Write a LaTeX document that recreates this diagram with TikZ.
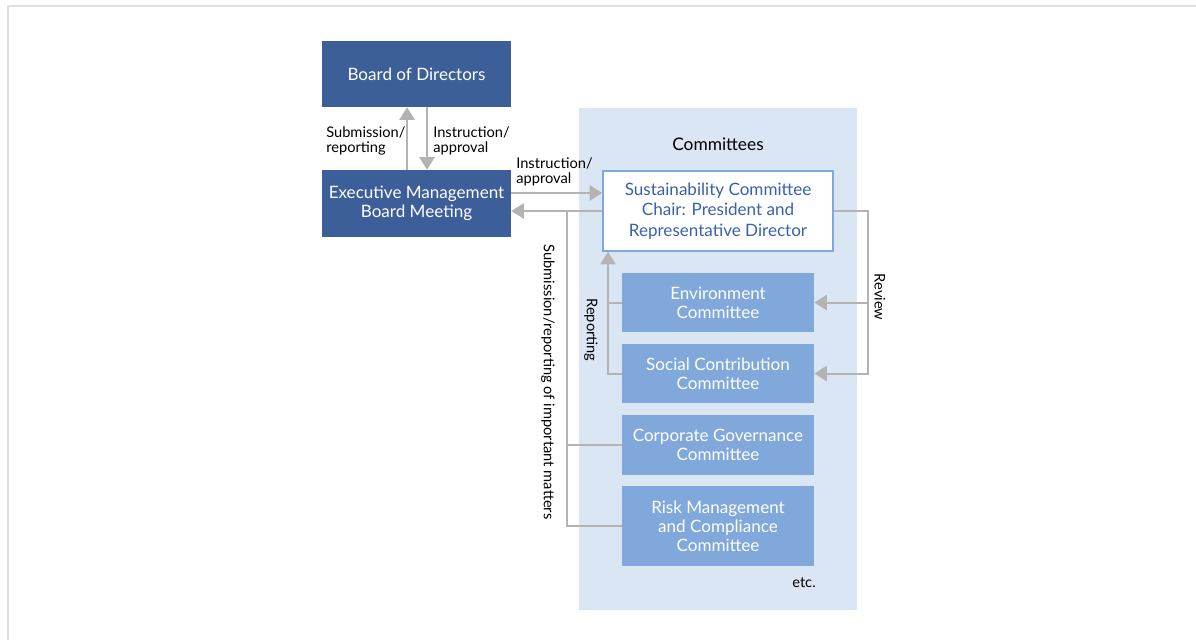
\documentclass[tikz,border=0pt]{standalone}
\usepackage{fontspec}
\setmainfont{Lato}
\usetikzlibrary{arrows.meta}
\definecolor{darkblue}{HTML}{3C5E99}
\definecolor{midblue}{HTML}{80A8DA}
\definecolor{paleblue}{HTML}{DBE6F5}
\definecolor{edgeblue}{HTML}{7FA8DE}
\definecolor{textblue}{HTML}{3A62A8}
\definecolor{arrgray}{HTML}{B3B3B3}

\begin{document}
\begin{tikzpicture}[x=0.75pt, y=-0.75pt,
  every node/.append style={inner sep=0pt, align=center},
  top/.style={fill=darkblue, text=white, minimum width=141.75pt, font=\fontsize{12.8}{14.2}\selectfont},
  chairbox/.style={fill=white, draw=edgeblue, line width=1.2pt, text=textblue, minimum width=172.5pt, minimum height=60pt, font=\fontsize{12.8}{15.3}\selectfont},
  sub/.style={fill=midblue, text=white, minimum width=144pt, font=\fontsize{12.8}{14.2}\selectfont},
  lbl/.style={font=\fontsize{11}{11.4}\selectfont, align=left},
  line/.style={draw=arrgray, line width=1.5pt},
  arr/.style={line, -{Triangle[width=11.5pt, length=9.5pt]}}]
 \useasboundingbox (0,0) rectangle (1196,640);
 \draw[black!12, line width=1.2pt] (8,640) -- (8,6) -- (1196,6);
 \fill[paleblue] (579,108) rectangle (857,610);

 \node[top, minimum height=49.5pt] (board) at (416.5,74) {Board of Directors};
 \node[top, minimum height=50.25pt] (exec) at (416.5,203.5) {Executive Management\\Board Meeting};

 \node[font=\fontsize{13}{14}\selectfont] (comm) at (718,144) {Committees};
 \node[chairbox] (sust) at (718,211) {Sustainability Committee\\Chair: President and\\Representative Director};
 \node[sub, minimum height=44.25pt] (env) at (718,302.5) {Environment\\Committee};
 \node[sub, minimum height=44.25pt] (soc) at (718,373.5) {Social Contribution\\Committee};
 \node[sub, minimum height=45pt] (cg) at (718,445) {Corporate Governance\\Committee};
 \node[sub, minimum height=60pt] (risk) at (718,526) {Risk Management\\and Compliance\\Committee};
 \node[lbl] (etc) at (804,583) {etc.};

 \coordinate (jn) at (567,212);
 \coordinate (rp) at (608,0);
 \coordinate (rv) at (868,0);

 \draw[arr] ([xshift=-7.1pt]exec.north) -- ([xshift=-7.1pt]board.south);
 \draw[arr] ([xshift=7.9pt]board.south) -- ([xshift=7.9pt]exec.north);
 \draw[arr] ([yshift=7.9pt]exec.east) -- ([yshift=7.9pt]exec.east -| sust.west);
 \draw[arr] (sust.west) -- (sust.west -| exec.east);
 \draw[line] (cg.west) -| (jn);
 \draw[line] (risk.west) -| (jn);

 \draw[line] (env.west) -- (env.west -| rp);
 \draw[arr] (soc.west) -| (sust.south -| rp);

 \draw[arr] (sust.east) -| (rv |- soc.east) -- (soc.east);
 \draw[arr] (rv |- env.east) -- (env.east);

 \node[lbl, anchor=west] (subrep) at (326,141) {Submission/\\reporting};
 \node[lbl, anchor=west] (instr) at (433,141) {Instruction/\\approval};
 \node[lbl, anchor=west] (instr2) at (516,172) {Instruction/\\approval};
 \node[lbl, rotate=-90] (important) at (548,382) {Submission/reporting of important matters};
 \node[lbl, rotate=-90] (report) at (591,330) {Reporting};
 \node[lbl, rotate=-90] (review) at (880,297) {Review};
\end{tikzpicture}
\end{document}
